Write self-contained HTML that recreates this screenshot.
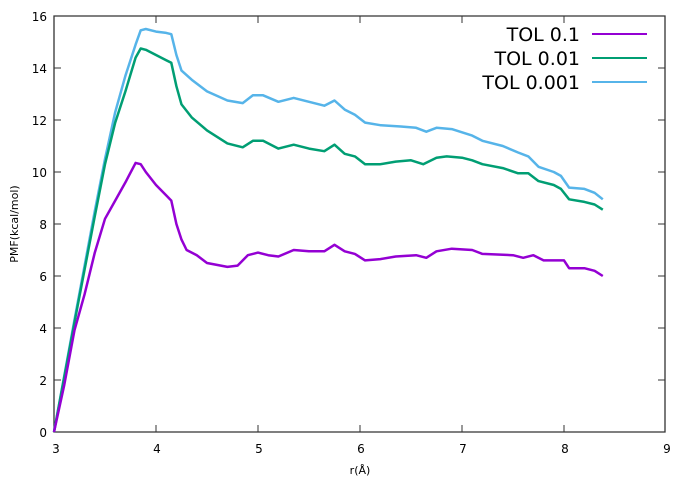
<!DOCTYPE html><html><head><style>body{margin:0;background:#fff}svg{display:block}text{font-family:"DejaVu Sans","Liberation Sans",sans-serif;fill:#000}</style></head><body>
<svg id="s" width="686" height="480" xmlns="http://www.w3.org/2000/svg">
<rect x="0" y="0" width="686" height="480" fill="#fff"/>
<g stroke="#333" stroke-width="1">
<path d="M54,16H665V432H54Z" fill="none" stroke-width="1.3"/>
<path d="M54,380h7M54,328h7M54,276h7M54,224h7M54,172h7M54,120h7M54,68h7M665,380h-7M665,328h-7M665,276h-7M665,224h-7M665,172h-7M665,120h-7M665,68h-7M156,432v-7M258,432v-7M360,432v-7M462,432v-7M564,432v-7M156,16v7M258,16v7M360,16v7M462,16v7M564,16v7"/>
</g>
<g font-size="12" text-anchor="end">
<text x="47" y="437">0</text><text x="47" y="385">2</text><text x="47" y="333">4</text><text x="47" y="281">6</text><text x="47" y="229">8</text><text x="47" y="177">10</text><text x="47" y="125">12</text><text x="47" y="73">14</text><text x="47" y="21">16</text>
</g>
<g font-size="12" text-anchor="middle">
<text x="56" y="453">3</text><text x="157" y="453">4</text><text x="259" y="453">5</text><text x="361" y="453">6</text><text x="463" y="453">7</text><text x="565" y="453">8</text><text x="667" y="453">9</text>
<text x="360" y="474" font-size="11">r(Å)</text>
<text transform="translate(18,224) rotate(-90)" font-size="11">PMF(kcal/mol)</text>
</g>
<g font-size="19" text-anchor="end">
<text x="580" y="41">TOL 0.1</text><text x="580" y="65">TOL 0.01</text><text x="580" y="89">TOL 0.001</text>
</g>
<path d="M592,34H647" stroke="#9400d3" stroke-width="2"/>
<path d="M592,58H647" stroke="#009e73" stroke-width="2"/>
<path d="M592,82H647" stroke="#56b4e9" stroke-width="2"/>
<g id="g" fill="none" stroke-width="2.5" stroke-linejoin="round"></g>
</svg>
<script>
const P=[[3,0,3.1,1.8,3.2,3.9,3.3,5.3,3.4,6.9,3.5,8.2,3.6,8.9,3.7,9.6,3.8,10.35,3.85,10.3,3.9,10.0,4.0,9.5,4.1,9.1,4.15,8.9,4.2,8.0,4.25,7.4,4.3,7.0,4.4,6.8,4.5,6.5,4.7,6.35,4.8,6.4,4.9,6.8,5.0,6.9,5.1,6.8,5.2,6.75,5.35,7.0,5.5,6.95,5.65,6.95,5.75,7.2,5.85,6.95,5.95,6.85,6.05,6.6,6.2,6.65,6.35,6.75,6.55,6.8,6.65,6.7,6.75,6.95,6.9,7.05,7.1,7.0,7.2,6.85,7.5,6.8,7.6,6.7,7.7,6.8,7.8,6.6,8.0,6.6,8.05,6.3,8.2,6.3,8.3,6.2,8.38,6.0],
[3,0,3.2,4.2,3.4,8.3,3.5,10.3,3.6,11.9,3.7,13.1,3.8,14.4,3.85,14.75,3.9,14.7,4.0,14.5,4.1,14.3,4.15,14.2,4.2,13.3,4.25,12.6,4.35,12.1,4.5,11.6,4.7,11.1,4.85,10.95,4.95,11.2,5.05,11.2,5.2,10.9,5.35,11.05,5.5,10.9,5.65,10.8,5.75,11.05,5.85,10.7,5.95,10.6,6.05,10.3,6.2,10.3,6.35,10.4,6.5,10.45,6.62,10.3,6.75,10.55,6.85,10.6,7.0,10.55,7.1,10.45,7.2,10.3,7.4,10.15,7.55,9.95,7.65,9.95,7.75,9.65,7.9,9.5,7.97,9.35,8.05,8.95,8.2,8.85,8.3,8.75,8.38,8.55],
[3,0,3.2,4.3,3.4,8.5,3.5,10.5,3.6,12.3,3.7,13.7,3.8,14.9,3.85,15.45,3.9,15.5,4.0,15.4,4.1,15.35,4.15,15.3,4.2,14.5,4.25,13.9,4.35,13.55,4.5,13.1,4.7,12.75,4.85,12.65,4.95,12.95,5.05,12.95,5.2,12.7,5.35,12.85,5.5,12.7,5.65,12.55,5.75,12.75,5.85,12.4,5.95,12.2,6.05,11.9,6.2,11.8,6.4,11.75,6.55,11.7,6.65,11.55,6.75,11.7,6.9,11.65,7.1,11.4,7.2,11.2,7.4,11.0,7.55,10.75,7.65,10.6,7.75,10.2,7.9,10.0,7.97,9.85,8.05,9.4,8.2,9.35,8.3,9.2,8.38,8.95]];
const C=["#9400d3","#009e73","#56b4e9"];const g=document.getElementById('g');
[2,1,0].forEach(i=>{let a=P[i],d='';for(let k=0;k<a.length;k+=2){d+=(k?'L':'M')+(54+(a[k]-3)*102).toFixed(1)+','+(432-26*a[k+1]).toFixed(1);}
const p=document.createElementNS('http://www.w3.org/2000/svg','path');p.setAttribute('d',d);p.setAttribute('stroke',C[i]);g.appendChild(p);});
</script>
</body></html>
